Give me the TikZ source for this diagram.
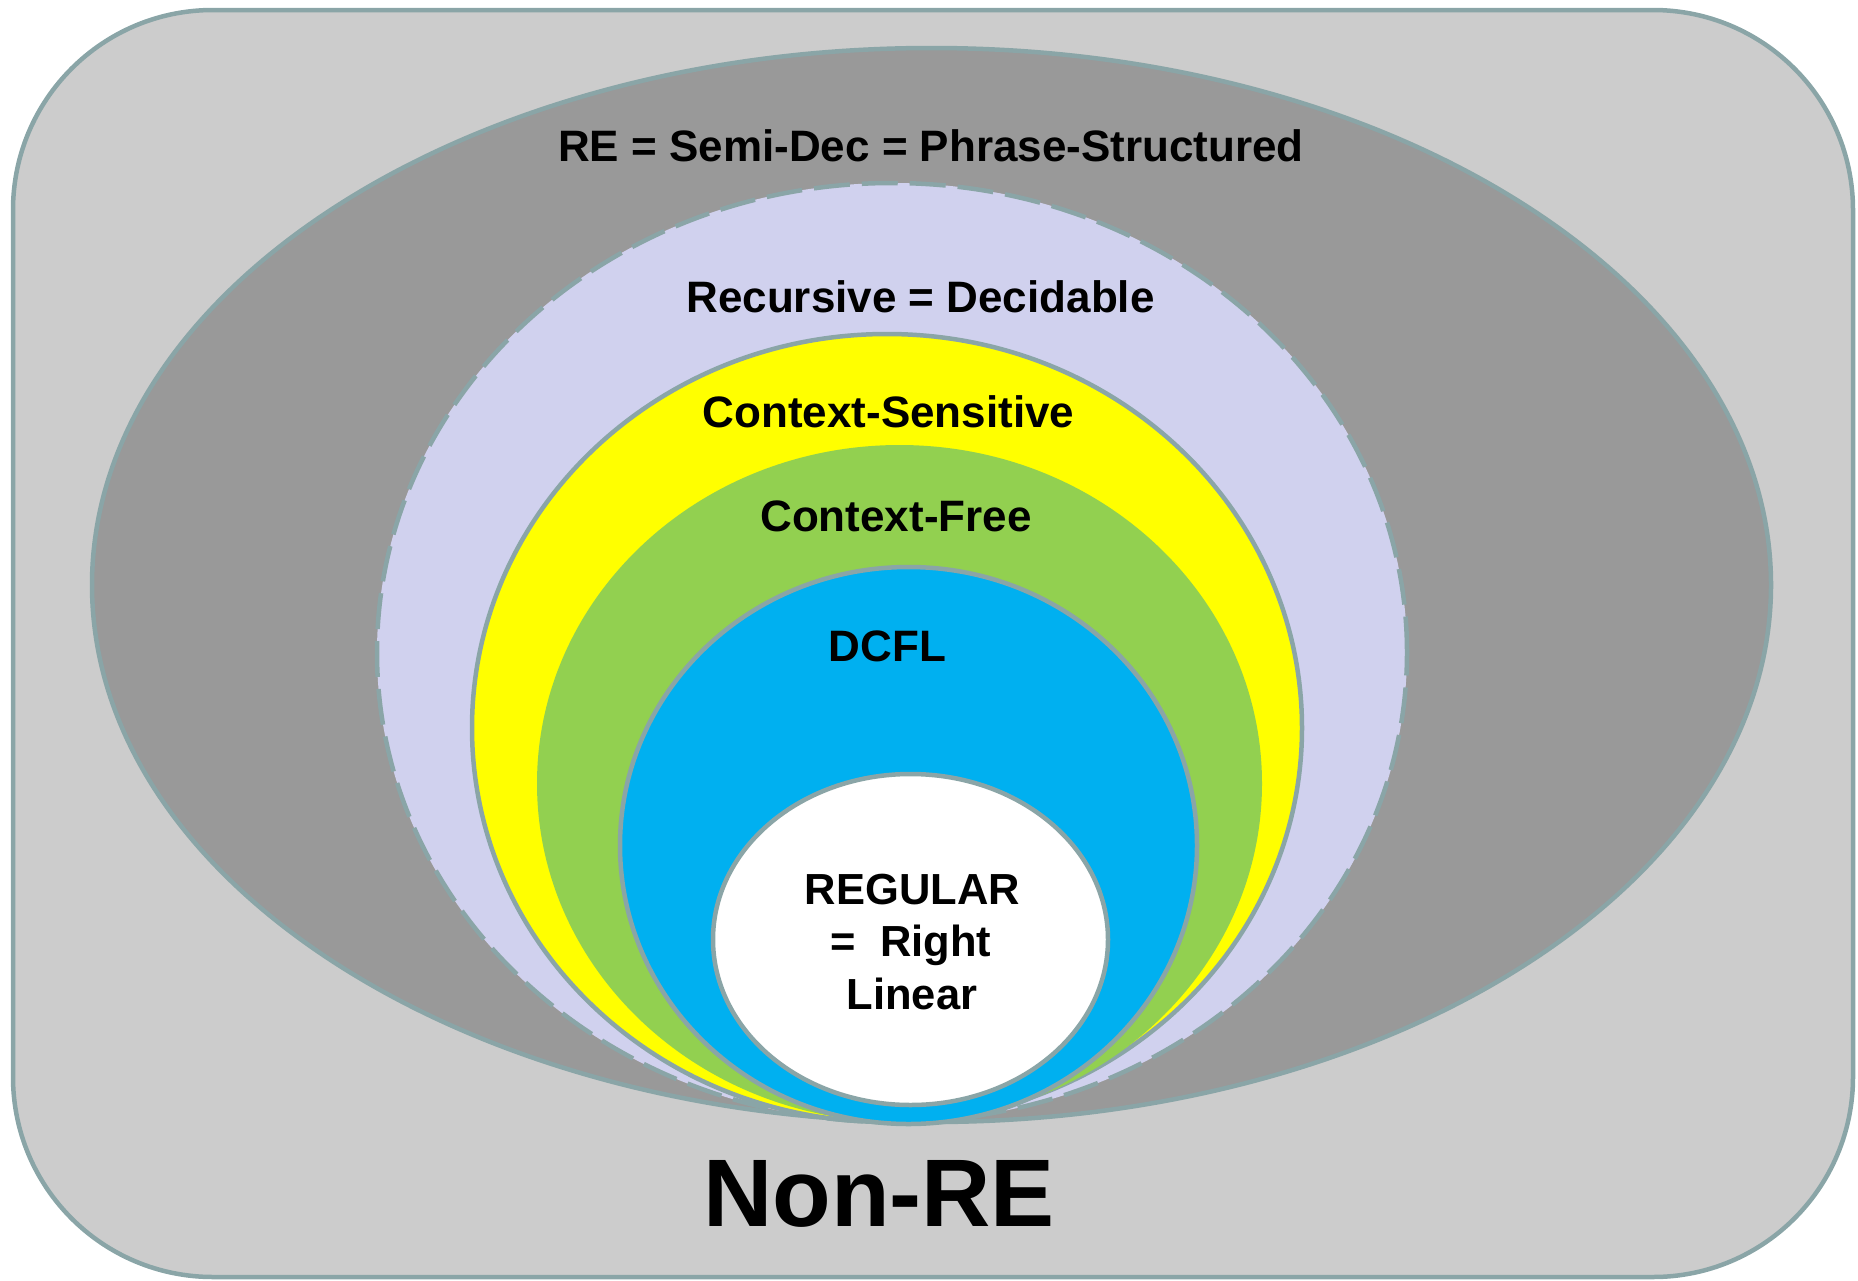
\documentclass[tikz,border=0pt]{standalone}
\usepackage{fontspec}
\setmainfont{Liberation Sans}
\usetikzlibrary{shapes.geometric}
\definecolor{edgec}{RGB}{138,165,167}
\definecolor{outerc}{RGB}{204,204,204}
\definecolor{rec}{RGB}{153,153,153}
\definecolor{lav}{RGB}{208,209,238}
\definecolor{csy}{RGB}{255,255,0}
\definecolor{cfg}{RGB}{146,208,80}
\definecolor{dcb}{RGB}{0,176,240}
\begin{document}
\begin{tikzpicture}[x=1pt,y=-1pt,
  region/.style={ellipse, inner sep=0pt, outer sep=0pt, draw=edgec, line width=4.5pt},
  lbl/.style={anchor=base, inner sep=0pt, font=\bfseries\fontsize{44}{52}\selectfont},
  reglbl/.style={anchor=base, inner sep=0pt, font=\bfseries\fontsize{43.5}{52}\selectfont}]
\useasboundingbox (0,0) rectangle (1858,1280);
\node[draw=edgec, line width=4.5pt, fill=outerc, rounded corners=200pt,
      minimum width=1840pt, minimum height=1267pt, inner sep=0pt] (nonre) at (933,643.5) {};
\node[region, fill=rec, minimum width=1679pt, minimum height=1074pt] (re) at (931.5,585) {};
\node[region, fill=lav, dash pattern=on 36pt off 12pt, minimum width=1030pt, minimum height=939pt] (recur) at (892,652.5) {};
\node[region, fill=csy, minimum width=830pt, minimum height=788pt] (cs) at (887,728) {};
\node[region, draw=none, fill=cfg, minimum width=725pt, minimum height=677pt] (cf) at (899.5,783.5) {};
\node[region, fill=dcb, minimum width=577pt, minimum height=557pt] (dcfl) at (908.5,845.5) {};
\node[region, fill=white, minimum width=395pt, minimum height=331pt] (reg) at (910.5,939.5) {};
\node[lbl] (reLbl) at (931,161) {RE = Semi-Dec = Phrase-Structured};
\node[lbl] (recLbl) at (920.5,312.7) {Recursive = Decidable};
\node[lbl] (csLbl) at (888.5,427) {Context-Sensitive};
\node[lbl] (cfLbl) at (896,531.7) {Context-Free};
\node[lbl] (dcflLbl) at (887.5,661) {DCFL};
\node[reglbl] (regA) at (912.5,904) {REGULAR};
\node[reglbl] (regB) at (911,956.7) {=\ \ Right};
\node[reglbl] (regC) at (912,1009) {Linear};
\node[anchor=base, inner sep=0pt, font=\bfseries\fontsize{96}{110}\selectfont] (nonreLbl) at (879,1226) {Non-RE};
\end{tikzpicture}
\end{document}
